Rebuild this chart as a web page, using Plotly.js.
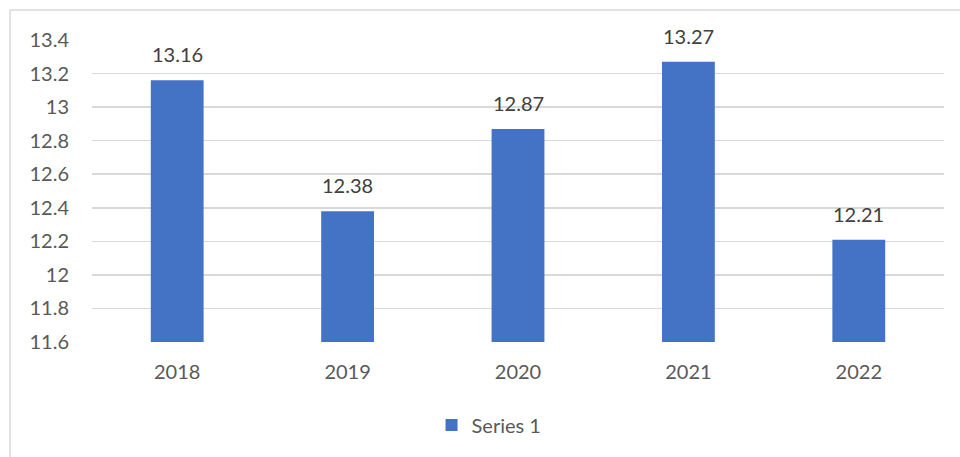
<!DOCTYPE html>
<html>
<head>
<meta charset="utf-8">
<script src="https://cdn.plot.ly/plotly-3.0.1.min.js"></script>
<style>
html,body{margin:0;padding:0;background:#fff;}
#chart{width:960px;height:457px;}
</style>
</head>
<body>
<div id="chart"></div>
<script>
const categories = ["2018", "2019", "2020", "2021", "2022"];
const series1 = [13.16, 12.38, 12.87, 13.27, 12.21];
const seriesName = "Series 1";
const yTicks = [11.6, 11.8, 12, 12.2, 12.4, 12.6, 12.8, 13, 13.2, 13.4];

const fontFam = "Lato, 'Open Sans', sans-serif";
const txtColor = "#595959";

const trace = {
  type: "bar",
  x: categories,
  y: series1,
  name: seriesName,
  marker: {color: "#4472C4"},
  hoverinfo: "x+y"
};

// category index positions (category axis: index i corresponds to categories[i])
const annotations = categories.map((c, i) => ({
  x: i, y: series1[i], xref: "x", yref: "y",
  text: series1[i].toFixed(2),
  showarrow: false, yanchor: "bottom", yshift: 12,
  font: {family: fontFam, size: 20, color: "#404040"}
}));

const layout = {
  width: 960, height: 457,
  margin: {l: 92, r: 16, t: 40, b: 115},
  paper_bgcolor: "#fff", plot_bgcolor: "#fff",
  bargap: 0.69,
  showlegend: true,
  legend: {orientation: "h", x: 0.466, xanchor: "center", y: -0.275, yanchor: "middle",
           font: {family: fontFam, size: 20, color: txtColor}},
  xaxis: {type: "category", range: [-0.5, categories.length - 0.5],
          showgrid: false, zeroline: false, showline: false,
          ticks: "", ticklabelstandoff: 16,
          tickfont: {family: fontFam, size: 20, color: txtColor}},
  yaxis: {range: [11.6, 13.4], tickvals: yTicks, ticktext: yTicks.map(v => String(v)),
          showgrid: true, gridcolor: "#d9d9d9", gridwidth: 1.5, zeroline: false, showline: false,
          ticks: "", ticklabelstandoff: 22,
          tickfont: {family: fontFam, size: 20, color: txtColor}},
  annotations: annotations,
  shapes: [{type: "rect", xref: "paper", yref: "paper",
            x0: -0.0962, x1: 1.2, y0: -0.6, y1: 1.0993,
            line: {color: "#d9d9d9", width: 1.5}, fillcolor: "rgba(0,0,0,0)", layer: "below"}]
};

Plotly.newPlot("chart", [trace], layout, {displayModeBar: false, staticPlot: true});
</script>
</body>
</html>
